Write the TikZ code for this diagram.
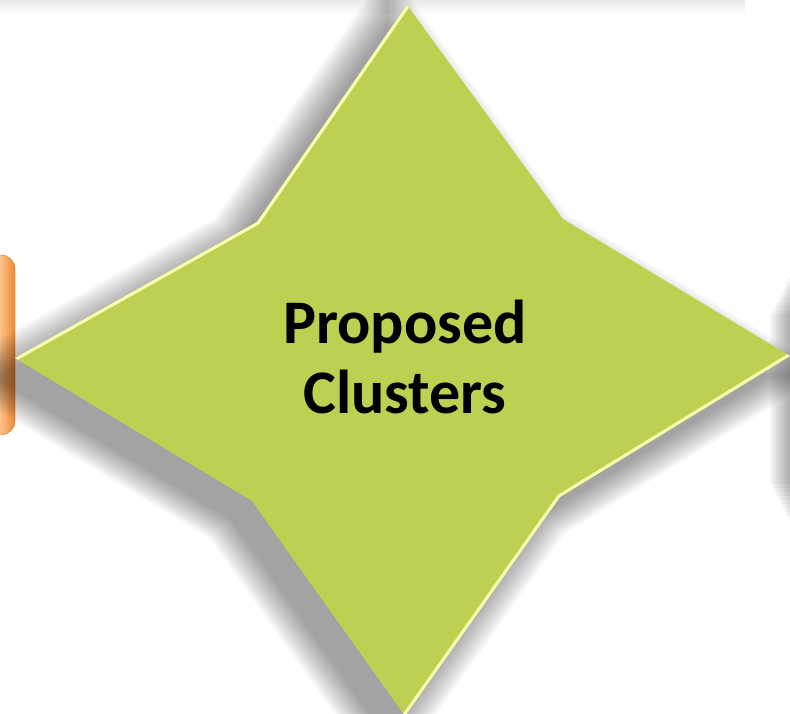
\documentclass[tikz,border=0pt]{standalone}
\usepackage{fontspec}
\setmainfont{Carlito}
\usetikzlibrary{calc}

\definecolor{stargreen}{RGB}{190,208,82}
\definecolor{edgelight}{RGB}{250,255,175}
\definecolor{boxorange}{RGB}{240,136,50}
\definecolor{boxlight}{RGB}{252,196,140}

% outline of the four pointed star
\newcommand{\starshape}{(407,709) -- (563,495) -- (790,358) -- (560,217) -- (405,-2) -- (252,213) -- (15,356) -- (257,492) -- cycle}

\begin{document}
\begin{tikzpicture}
	[x=1pt,y=1pt,every node/.style={font=\bfseries\fontsize{62}{70}\selectfont,align=center}]
	\tikzset{shadowpart/.style = {fill=black,opacity=0.026},
	         bevel/.style = {draw=edgelight,line width=6pt,line join=round}}
	\useasboundingbox (0,0) rectangle (790,714);

	% shadows of the shapes round it
	\shade[top color=black!9,bottom color=white] (0,700) rectangle (745,714);
	\foreach \d in {0,4,...,40}
	\fill[black,opacity=0.035] (790-\d*0.5,190+\d) rectangle (790,440-\d);

	% orange box on the left
	\shade[draw=boxorange!85!black,rounded corners=14pt,left color=boxorange,right color=boxorange,middle color=boxlight]
		(-16,279) rectangle (15,459);

	% blurred shadow of the star
	\foreach \s in {1.00,1.01,...,1.15}
	\fill[shadowpart,scale around={\s:(380,310)},shift={(-20,-20)}] \starshape;

	% star
	\fill[stargreen] \starshape;
	\begin{scope}
		\clip \starshape;
		\draw[bevel] (407,709) -- (257,492) -- (15,356);
		\draw[bevel] (790,358) -- (560,217) -- (405,-2);
	\end{scope}

	\node (title) at (405,357) {Proposed\\Clusters};
\end{tikzpicture}
\end{document}
